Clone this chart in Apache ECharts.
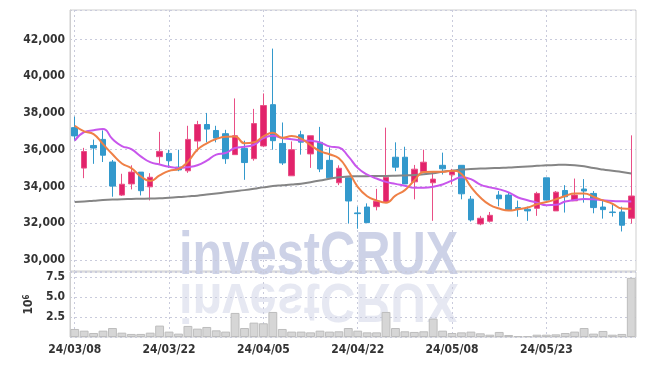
<!DOCTYPE html>
<html>
<head>
<meta charset="utf-8">
<script src="https://cdn.jsdelivr.net/npm/echarts@6/dist/echarts.min.js"></script>
<style>
  html, body { margin: 0; padding: 0; background: #fff; }
  #chart { width: 645px; height: 366px; }
</style>
</head>
<body>
<div id="chart"></div>
<script>
// trading days (KRX), shown every 10th
const dates = [
  '24/03/08', '24/03/11', '24/03/12', '24/03/13', '24/03/14', '24/03/15', '24/03/18', '24/03/19', '24/03/20', '24/03/21',
  '24/03/22', '24/03/25', '24/03/26', '24/03/27', '24/03/28', '24/03/29', '24/04/01', '24/04/02', '24/04/03', '24/04/04',
  '24/04/05', '24/04/08', '24/04/09', '24/04/11', '24/04/12', '24/04/15', '24/04/16', '24/04/17', '24/04/18', '24/04/19',
  '24/04/22', '24/04/23', '24/04/24', '24/04/25', '24/04/26', '24/04/29', '24/04/30', '24/05/02', '24/05/03', '24/05/07',
  '24/05/08', '24/05/09', '24/05/10', '24/05/13', '24/05/14', '24/05/16', '24/05/17', '24/05/20', '24/05/21', '24/05/22',
  '24/05/23', '24/05/24', '24/05/27', '24/05/28', '24/05/29', '24/05/30', '24/05/31', '24/06/03', '24/06/04', '24/06/05'
]

const opens = [
  37200, 35000, 36230, 36560, 35330, 33530, 34140, 34780, 33980, 35620,
  35800, 35050, 34850, 36470, 37370, 37045, 36870, 35730, 36070, 35510,
  36200, 38450, 36340, 34580, 36810, 35770, 36400, 35420, 34200, 34470,
  32560, 32880, 32900, 33150, 35590, 35590, 34250, 34810, 34200, 35150,
  34630, 35150, 33310, 31960, 32110, 33530, 33530, 32850, 32760, 32810,
  34470, 32670, 33780, 33220, 33860, 33620, 32880, 32610, 32610, 32270
]
const closes = [
  36750, 35900, 36090, 35700, 34020, 34120, 34780, 33770, 34500, 35910,
  35400, 34900, 36560, 37370, 37120, 36630, 35510, 36760, 35300, 37420,
  38400, 36490, 35280, 36000, 36410, 36760, 34950, 34470, 34990, 33210,
  32520, 32030, 33200, 34500, 35050, 34140, 34940, 35320, 34400, 34960,
  34870, 33600, 32180, 32270, 32430, 33330, 32700, 32780, 32670, 33620,
  33260, 33690, 33440, 33530, 33750, 32850, 32740, 32580, 31890, 33480
]
const lows = [
  36500, 34450, 35230, 35330, 33440, 33480, 33840, 33510, 33240, 35230,
  35010, 34830, 34740, 35910, 36400, 36400, 35230, 35730, 34360, 35400,
  36140, 36000, 35170, 34580, 35730, 35010, 34780, 34430, 34070, 31980,
  31700, 32030, 32700, 33150, 34830, 34140, 33300, 34790, 32130, 34650,
  34110, 33300, 32090, 31890, 32040, 32920, 32670, 32350, 32130, 32400,
  33260, 32670, 32580, 33220, 33120, 32540, 32250, 32360, 31550, 31980
]
const highs = [
  37800, 36100, 36550, 37050, 35440, 34690, 35150, 34780, 34720, 36970,
  36000, 36000, 37300, 37570, 38000, 37300, 37080, 38790, 36490, 38220,
  39060, 41500, 37480, 36450, 37030, 36760, 37240, 36130, 35150, 34470,
  32900, 33080, 33870, 37200, 36400, 36160, 35170, 36000, 34830, 35840,
  34955, 35150, 33480, 32400, 32610, 33750, 33660, 33230, 32900, 33710,
  34470, 33750, 34070, 34430, 34400, 33750, 33210, 33030, 32900, 36780
]

// moving averages as drawn (orange short, purple mid, gray long)
const maShort = [
  37300, 37000, 36850, 36300, 35750, 35250, 35000, 34550, 34300, 34600,
  34850, 34950, 35350, 36000, 36350, 36580, 36700, 36720, 36350, 36400,
  36720, 36920, 36650, 36740, 36600, 36250, 35920, 35750, 35530, 34850,
  33980, 33470, 33240, 33120, 33500, 33800, 34320, 34790, 34800, 34800,
  34860, 34680, 33980, 33400, 33000, 32800, 32690, 32760, 32850, 33030,
  33150, 33300, 33480, 33620, 33620, 33440, 33240, 33060, 32800, 32780
]
const maMid = [
  36490, 36950, 37060, 37120, 36580, 36200, 36030, 35640, 35320, 35190,
  35070, 35010, 35050, 35150, 35400, 35730, 35820, 36090, 36160, 36270,
  36630, 36760, 36630, 36570, 36500, 36480, 36400, 36180, 36120, 35640,
  35010, 34650, 34430, 34250, 34140, 34040, 33930, 33930, 33980, 34110,
  34320, 34500, 34400, 34100, 33950, 33840, 33680, 33400, 33250, 33120,
  32980, 33000, 33180, 33260, 33320, 33300, 33250, 33210, 33190, 33180
]
const maLong = [
  33150, 33180, 33220, 33260, 33290, 33310, 33320, 33330, 33340, 33360,
  33390, 33420, 33460, 33500, 33560, 33620, 33680, 33740, 33800, 33870,
  33950, 34020, 34060, 34100, 34150, 34230, 34320, 34420, 34500, 34540,
  34560, 34560, 34570, 34570, 34580, 34600, 34620, 34660, 34720, 34800,
  34860, 34920, 34950, 34970, 34990, 35010, 35030, 35060, 35090, 35120,
  35150, 35170, 35180, 35160, 35100, 35000, 34920, 34850, 34780, 34700
]

const volumes = [
  1000000, 790000, 500000, 790000, 1120000, 540000, 380000, 380000, 540000, 1420000,
  670000, 420000, 1380000, 1040000, 1250000, 830000, 670000, 3000000, 1120000, 1790000,
  1710000, 3120000, 1000000, 670000, 670000, 580000, 790000, 670000, 710000, 1120000,
  790000, 580000, 580000, 3120000, 1120000, 710000, 630000, 710000, 2290000, 790000,
  500000, 580000, 670000, 460000, 290000, 630000, 250000, 120000, 120000, 290000,
  290000, 330000, 500000, 670000, 1120000, 420000, 750000, 290000, 380000, 7370000
]

const labelFont = {
  color: '#333',
  fontFamily: '"DejaVu Sans Condensed", "DejaVu Sans", sans-serif',
  fontWeight: 'bold',
  fontSize: 12
}
const gridLine = { color: '#c9cbdc', width: 1, type: [2, 3] }
const everyTen = (i) => i % 10 === 0
const markFont = 'bold 61px "Liberation Sans", Arial, sans-serif'

const chart = echarts.init(document.getElementById('chart'))

chart.setOption({
  animation: false,
  backgroundColor: '#fff',
  graphic: [
    {
      type: 'text',
      x: 179,
      y: 257,
      scaleX: 0.8,
      z: 0,
      silent: true,
      style: { text: 'investCRUX', font: markFont, fill: '#cdd2e7', verticalAlign: 'middle' }
    },
    {
      // reflection
      type: 'text',
      x: 179,
      y: 299,
      scaleX: 0.8,
      scaleY: -0.9,
      z: 0,
      silent: true,
      style: { text: 'investCRUX', font: markFont, fill: '#e6e8f2', verticalAlign: 'middle' }
    }
  ],
  grid: [
    { left: 70, right: 9, top: 10, height: 261, show: true, borderColor: '#cfcfcf', borderWidth: 1 },
    { left: 70, right: 9, top: 272, height: 65, show: true, borderColor: '#cfcfcf', borderWidth: 1 }
  ],
  xAxis: [
    {
      type: 'category',
      gridIndex: 0,
      data: dates,
      boundaryGap: true,
      axisLine: { show: false },
      axisTick: { show: false },
      axisLabel: { show: false },
      splitLine: { show: true, interval: everyTen, alignWithLabel: true, lineStyle: gridLine }
    },
    {
      type: 'category',
      gridIndex: 1,
      data: dates,
      boundaryGap: true,
      axisLine: { show: false },
      axisTick: { show: false },
      axisLabel: Object.assign({ interval: everyTen, margin: 7 }, labelFont),
      splitLine: { show: true, interval: everyTen, alignWithLabel: true, lineStyle: gridLine }
    }
  ],
  yAxis: [
    {
      type: 'value',
      gridIndex: 0,
      min: 29400,
      max: 43600,
      splitNumber: 7,
      axisLine: { show: true, lineStyle: { color: '#cfcfcf' } },
      axisTick: { show: false },
      axisLabel: Object.assign({
        margin: 5,
        showMinLabel: false,
        showMaxLabel: false,
        formatter: (v) => String(v).replace(/\B(?=(\d{3})+(?!\d))/g, ',')
      }, labelFont),
      splitLine: { show: true, lineStyle: gridLine }
    },
    {
      type: 'value',
      gridIndex: 1,
      min: 0,
      max: 8100000,
      interval: 2500000,
      axisLine: { show: true, lineStyle: { color: '#cfcfcf' } },
      axisTick: { show: false },
      axisLabel: Object.assign({
        margin: 5,
        showMinLabel: false,
        showMaxLabel: false,
        formatter: (v) => (v / 1000000).toFixed(1)
      }, labelFont),
      splitLine: { show: true, lineStyle: gridLine },
      name: '{a|10}{b|6}',
      nameLocation: 'middle',
      nameGap: 32,
      nameRotate: 90,
      nameTextStyle: {
        color: '#333',
        rich: {
          a: { fontSize: 12, fontWeight: 'bold', fontFamily: '"DejaVu Sans Condensed", sans-serif', color: '#333' },
          b: { fontSize: 8, fontWeight: 'bold', fontFamily: '"DejaVu Sans Condensed", sans-serif', color: '#333', verticalAlign: 'top' }
        }
      }
    }
  ],
  series: [
    {
      name: 'price',
      type: 'candlestick',
      xAxisIndex: 0,
      yAxisIndex: 0,
      barWidth: 6,
      data: dates.map((d, i) => [opens[i], closes[i], lows[i], highs[i]]),
      itemStyle: {
        color: '#e2236b',
        color0: '#3399cc',
        borderColor: '#e94f86',
        borderColor0: '#3399cc',
        borderWidth: 1
      },
      z: 3
    },
    {
      name: 'MA long',
      type: 'line',
      data: maLong,
      smooth: true,
      showSymbol: false,
      lineStyle: { color: '#858585', width: 2 },
      z: 4
    },
    {
      name: 'MA mid',
      type: 'line',
      data: maMid,
      smooth: true,
      showSymbol: false,
      lineStyle: { color: '#c856ec', width: 2 },
      z: 4
    },
    {
      name: 'MA short',
      type: 'line',
      data: maShort,
      smooth: true,
      showSymbol: false,
      lineStyle: { color: '#ef8046', width: 2 },
      z: 5
    },
    {
      name: 'volume',
      type: 'bar',
      xAxisIndex: 1,
      yAxisIndex: 1,
      data: volumes,
      barCategoryGap: '6%',
      itemStyle: { color: '#d6d6d6', borderColor: '#bdbdbd', borderWidth: 1 },
      z: 3
    }
  ]
})
</script>
</body>
</html>
